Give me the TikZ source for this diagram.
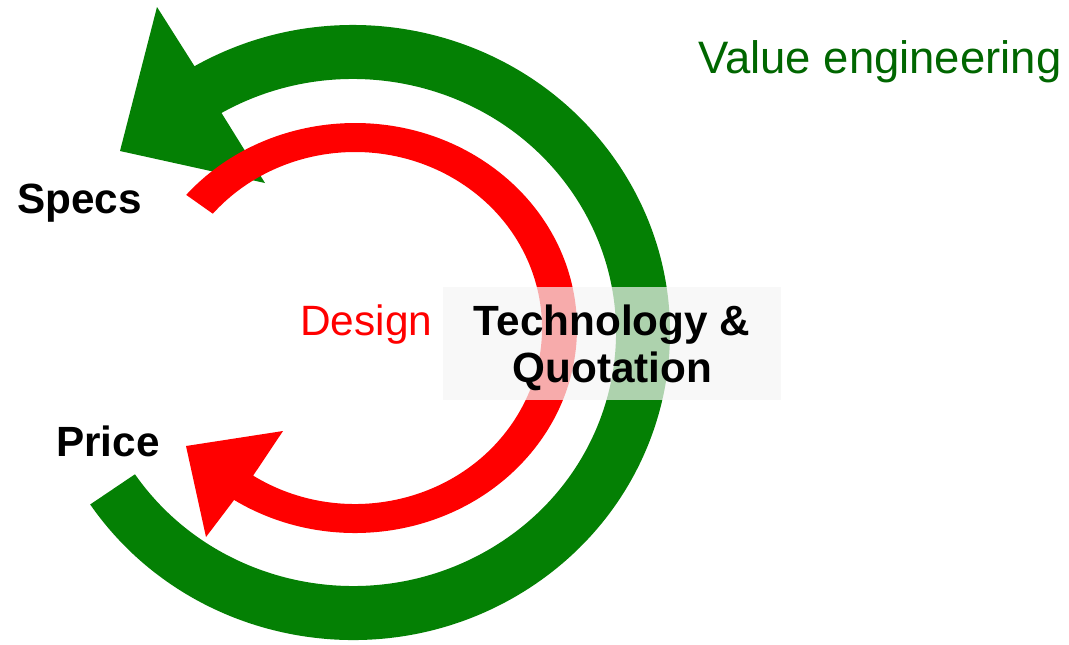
\documentclass[tikz,border=0pt]{standalone}
\usepackage{fontspec}
\setmainfont{Liberation Sans}
\definecolor{arrowgreen}{RGB}{4,128,4}
\definecolor{titlegreen}{RGB}{0,102,0}
\definecolor{arrowred}{RGB}{255,0,0}
\begin{document}
\begin{tikzpicture}[x=0.75pt,y=0.75pt,
  boldlabel/.style={font=\fontsize{31.7}{36}\selectfont\bfseries, text=black, inner sep=0pt, anchor=base west},
  plainlabel/.style={font=\fontsize{31.8}{36}\selectfont, inner sep=0pt, anchor=base west},
  veil/.style={fill=white!96!black, opacity=0.7}]
\useasboundingbox (0,0) rectangle (1069,-644);
\coordinate (G) at (353,-332.5);
\coordinate (R) at (355,-328);
% green circular arrow (counter-clockwise, head at top left)
\fill[arrowgreen] ([shift={(214:317 and 307.5)}]G)
  arc[start angle=214, end angle=480, x radius=317, y radius=307.5]
  -- (157,-7) -- (120,-151) -- (265,-183)
  -- ([shift={(480:263 and 253.5)}]G)
  arc[start angle=480, end angle=214, x radius=263, y radius=253.5] -- cycle;
% red circular arrow (clockwise, head at bottom left)
\fill[arrowred] ([shift={(139.5:222 and 205)}]R)
  arc[start angle=139.5, end angle=-123, x radius=222, y radius=205]
  -- (206,-537) -- (186,-446) -- (283,-431)
  -- ([shift={(-123:187 and 176)}]R)
  arc[start angle=-123, end angle=139.5, x radius=187, y radius=176] -- cycle;
% translucent backdrop of the centre label
\fill[veil] (443,-287) rectangle (781,-400);
% labels
\node[plainlabel, text=titlegreen, font=\fontsize{34.1}{38}\selectfont] (ve) at (698,-73) {Value engineering};
\node[boldlabel] (specs) at (17,-213) {Specs};
\node[boldlabel] (price) at (56,-456) {Price};
\node[plainlabel, text=arrowred] (design) at (300,-335) {Design};
\node[boldlabel, anchor=base] (tech) at (612,-335) {Technology \&};
\node[boldlabel, anchor=base] (quot) at (612.5,-382) {Quotation};
\end{tikzpicture}
\end{document}
